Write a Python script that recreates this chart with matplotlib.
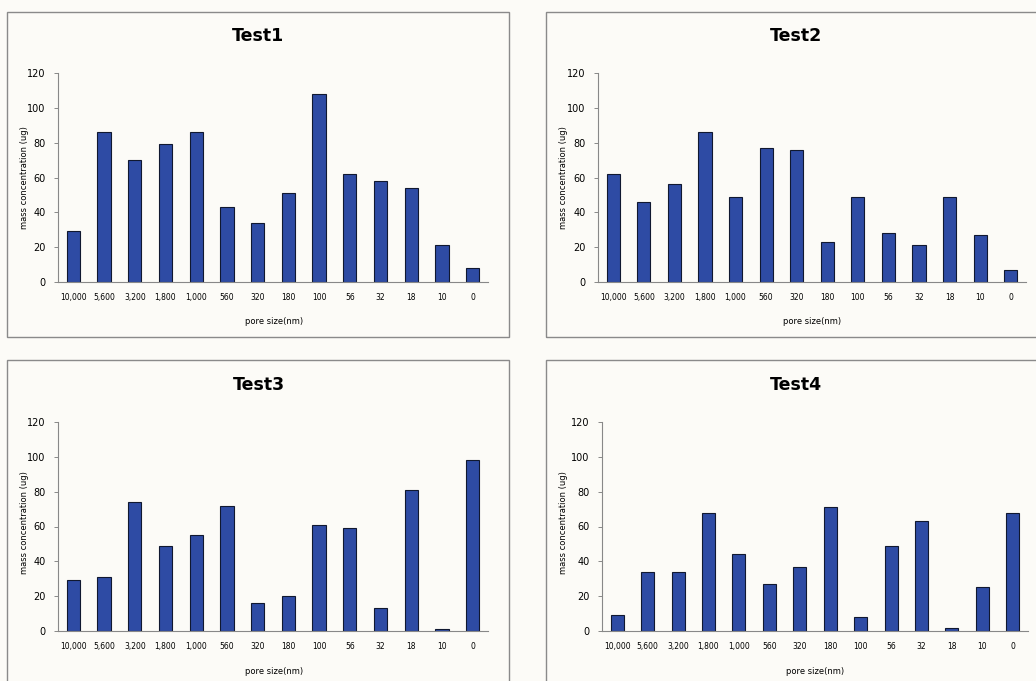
import matplotlib.pyplot as plt
from matplotlib.patches import Rectangle

# pore size categories (x axis)
pore_sizes = ["10,000", "5,600", "3,200", "1,800", "1,000", "560", "320",
              "180", "100", "56", "32", "18", "10", "0"]

# mass concentration (ug)
test1 = [29, 86, 70, 79, 86, 43, 34, 51, 108, 62, 58, 54, 21, 8]
test2 = [62, 46, 56, 86, 49, 77, 76, 23, 49, 28, 21, 49, 27, 7]
test3 = [29, 31, 74, 49, 55, 72, 16, 20, 61, 59, 13, 81, 1, 98]
test4 = [9, 34, 34, 68, 44, 27, 37, 71, 8, 49, 63, 2, 25, 68]

titles = ["Test1", "Test2", "Test3", "Test4"]
series = [test1, test2, test3, test4]

W, H = 1036, 681
bg = "#fcfbf7"
bar_color = "#2e4ba4"

plt.rcParams['font.family'] = ['DejaVu Sans']
fig = plt.figure(figsize=(W / 100, H / 100), dpi=100, facecolor=bg)


def fx(px):
    return px / W


def fy(py):
    return 1 - py / H


# panel layout in pixels: border box, axes box (left, right, top, bottom), text anchors
panels = [
    dict(border=(7, 12, 509, 337), ax=(58, 488, 73, 282), title=(258, 36), xlab=(274, 321), ylab=(25, 178)),
    dict(border=(546, 12, 1045, 337), ax=(598, 1026, 73, 282), title=(796, 36), xlab=(812, 321), ylab=(564, 178)),
    dict(border=(7, 360, 509, 690), ax=(58, 488, 422, 631), title=(259, 385), xlab=(274, 671), ylab=(25, 523)),
    dict(border=(546, 360, 1045, 690), ax=(602, 1028, 422, 631), title=(796, 385), xlab=(815, 671), ylab=(563, 523)),
]

for p, title, vals in zip(panels, titles, series):
    x0, y0, x1, y1 = p["border"]
    fig.patches.append(Rectangle((fx(x0), fy(y1)), fx(x1 - x0), (y1 - y0) / H,
                                 transform=fig.transFigure, fill=False,
                                 edgecolor="#8a8a8a", linewidth=1.0))

    l, r, t, b = p["ax"]
    ax = fig.add_axes([fx(l), fy(b), fx(r - l), (b - t) / H])
    ax.set_facecolor("none")
    ax.bar(range(len(pore_sizes)), vals, width=0.43, color=bar_color,
           edgecolor="#101830", linewidth=0.8)
    ax.set_xlim(-0.5, len(pore_sizes) - 0.5)
    ax.set_ylim(0, 120)
    ax.set_yticks(range(0, 121, 20))
    ax.set_xticks(range(len(pore_sizes)))
    ax.set_xticklabels(pore_sizes, fontsize=5.5)
    ax.tick_params(axis='y', labelsize=7, length=3, width=0.6, color="#777777", pad=6)
    ax.tick_params(axis='x', length=0, pad=8)
    for s in ["top", "right"]:
        ax.spines[s].set_visible(False)
    for s in ["left", "bottom"]:
        ax.spines[s].set_color("#888888")
        ax.spines[s].set_linewidth(0.8)

    tx, ty = p["title"]
    fig.text(fx(tx), fy(ty), title, ha="center", va="center", fontsize=12.5, fontweight="bold")
    lx, ly = p["xlab"]
    fig.text(fx(lx), fy(ly), "pore size(nm)", ha="center", va="center", fontsize=6)
    yx, yy = p["ylab"]
    fig.text(fx(yx), fy(yy), "mass concentration (ug)", ha="center", va="center",
             fontsize=6, rotation=90)

fig.savefig("out.png", dpi=100, facecolor=bg)
